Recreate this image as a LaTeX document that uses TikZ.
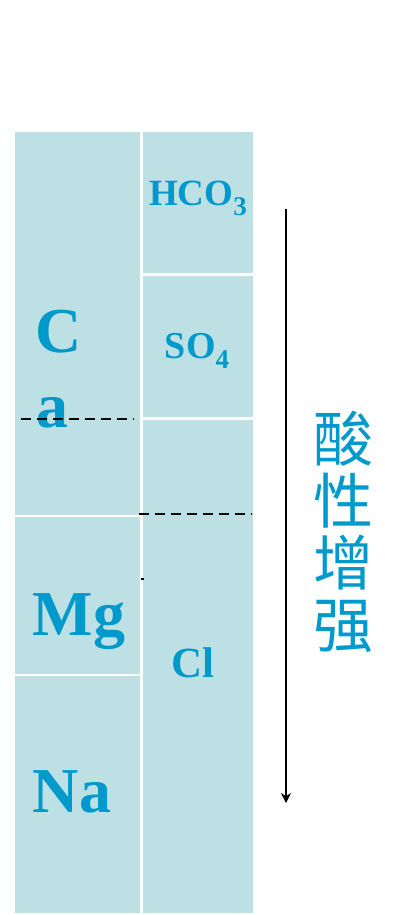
\documentclass[tikz,border=0pt]{standalone}
\usepackage{fontspec}
\setmainfont{Liberation Serif}
\newfontfamily\cjk{Noto Sans CJK SC}
\usepackage{tikz}
\usetikzlibrary{arrows.meta}
\definecolor{cellfill}{RGB}{188,224,227}
\definecolor{ionblue}{RGB}{0,153,204}
\tikzstyle{cell}=[rectangle, fill=cellfill, inner sep=0pt, anchor=north west]
\tikzstyle{ion}=[text=ionblue, inner sep=0pt, anchor=base]
\tikzstyle{cut}=[dash pattern=on 10pt off 6pt, line width=2.4pt]
\newcommand{\cell}{\node[cell]}
\newcommand{\ion}{\node[ion]}
\newcommand{\ionsize}[1]{\fontsize{#1}{#1}\selectfont\bfseries}
\newcommand{\ionsub}[1]{\raisebox{-10pt}{\fontsize{27}{27}\selectfont #1}}

\begin{document}
\begin{tikzpicture}[x=1pt,y=-1pt]
	\useasboundingbox (0,0) rectangle (395,915);
	\cell[minimum width=125pt, minimum height=383pt](CaCell) at (15,132) {};
	\cell[minimum width=125pt, minimum height=157pt](MgCell) at (15,517) {};
	\cell[minimum width=125pt, minimum height=237pt](NaCell) at (15,676) {};
	\cell[minimum width=110pt, minimum height=141pt](HCOCell) at (143,132) {};
	\cell[minimum width=110pt, minimum height=141pt](SOCell) at (143,276) {};
	\cell[minimum width=110pt, minimum height=493pt](ClCell) at (143,420) {};
	\ion[font=\ionsize{64}](C) at (59,352) {C};
	\ion[font=\ionsize{64}](a) at (52,427) {a};
	\ion[font=\ionsize{64}](Mg) at (79,635) {Mg};
	\ion[font=\ionsize{64}](Na) at (72,812) {Na};
	\ion[font=\ionsize{37}](HCO) at (198,205) {HCO\ionsub{3}};
	\ion[font=\ionsize{38}](SO) at (197,358) {SO\ionsub{4}};
	\ion[font=\ionsize{43}](Cl) at (193,677) {Cl};
	\node[text=ionblue, font=\cjk\fontsize{60}{62}\selectfont, align=center](acid) at (343,532) {酸\\性\\增\\强};
	\coordinate (cutL1) at (21,419);
	\coordinate (cutL2) at (134,419);
	\coordinate (cutR1) at (139,514);
	\coordinate (cutR2) at (252,514);
	\coordinate (tick1) at (141,579);
	\coordinate (tick2) at (144,579);
	\coordinate (arrowTop) at (286,209);
	\coordinate (arrowTip) at (286,803);
	\draw[cut] (cutL1) -- (cutL2);
	\draw[cut] (cutR1) -- (cutR2);
	\draw[line width=2.4pt] (tick1) -- (tick2);
	\draw[line width=2.2pt, -{Stealth[length=10pt, width=10pt]}] (arrowTop) -- (arrowTip);
\end{tikzpicture}
\end{document}
